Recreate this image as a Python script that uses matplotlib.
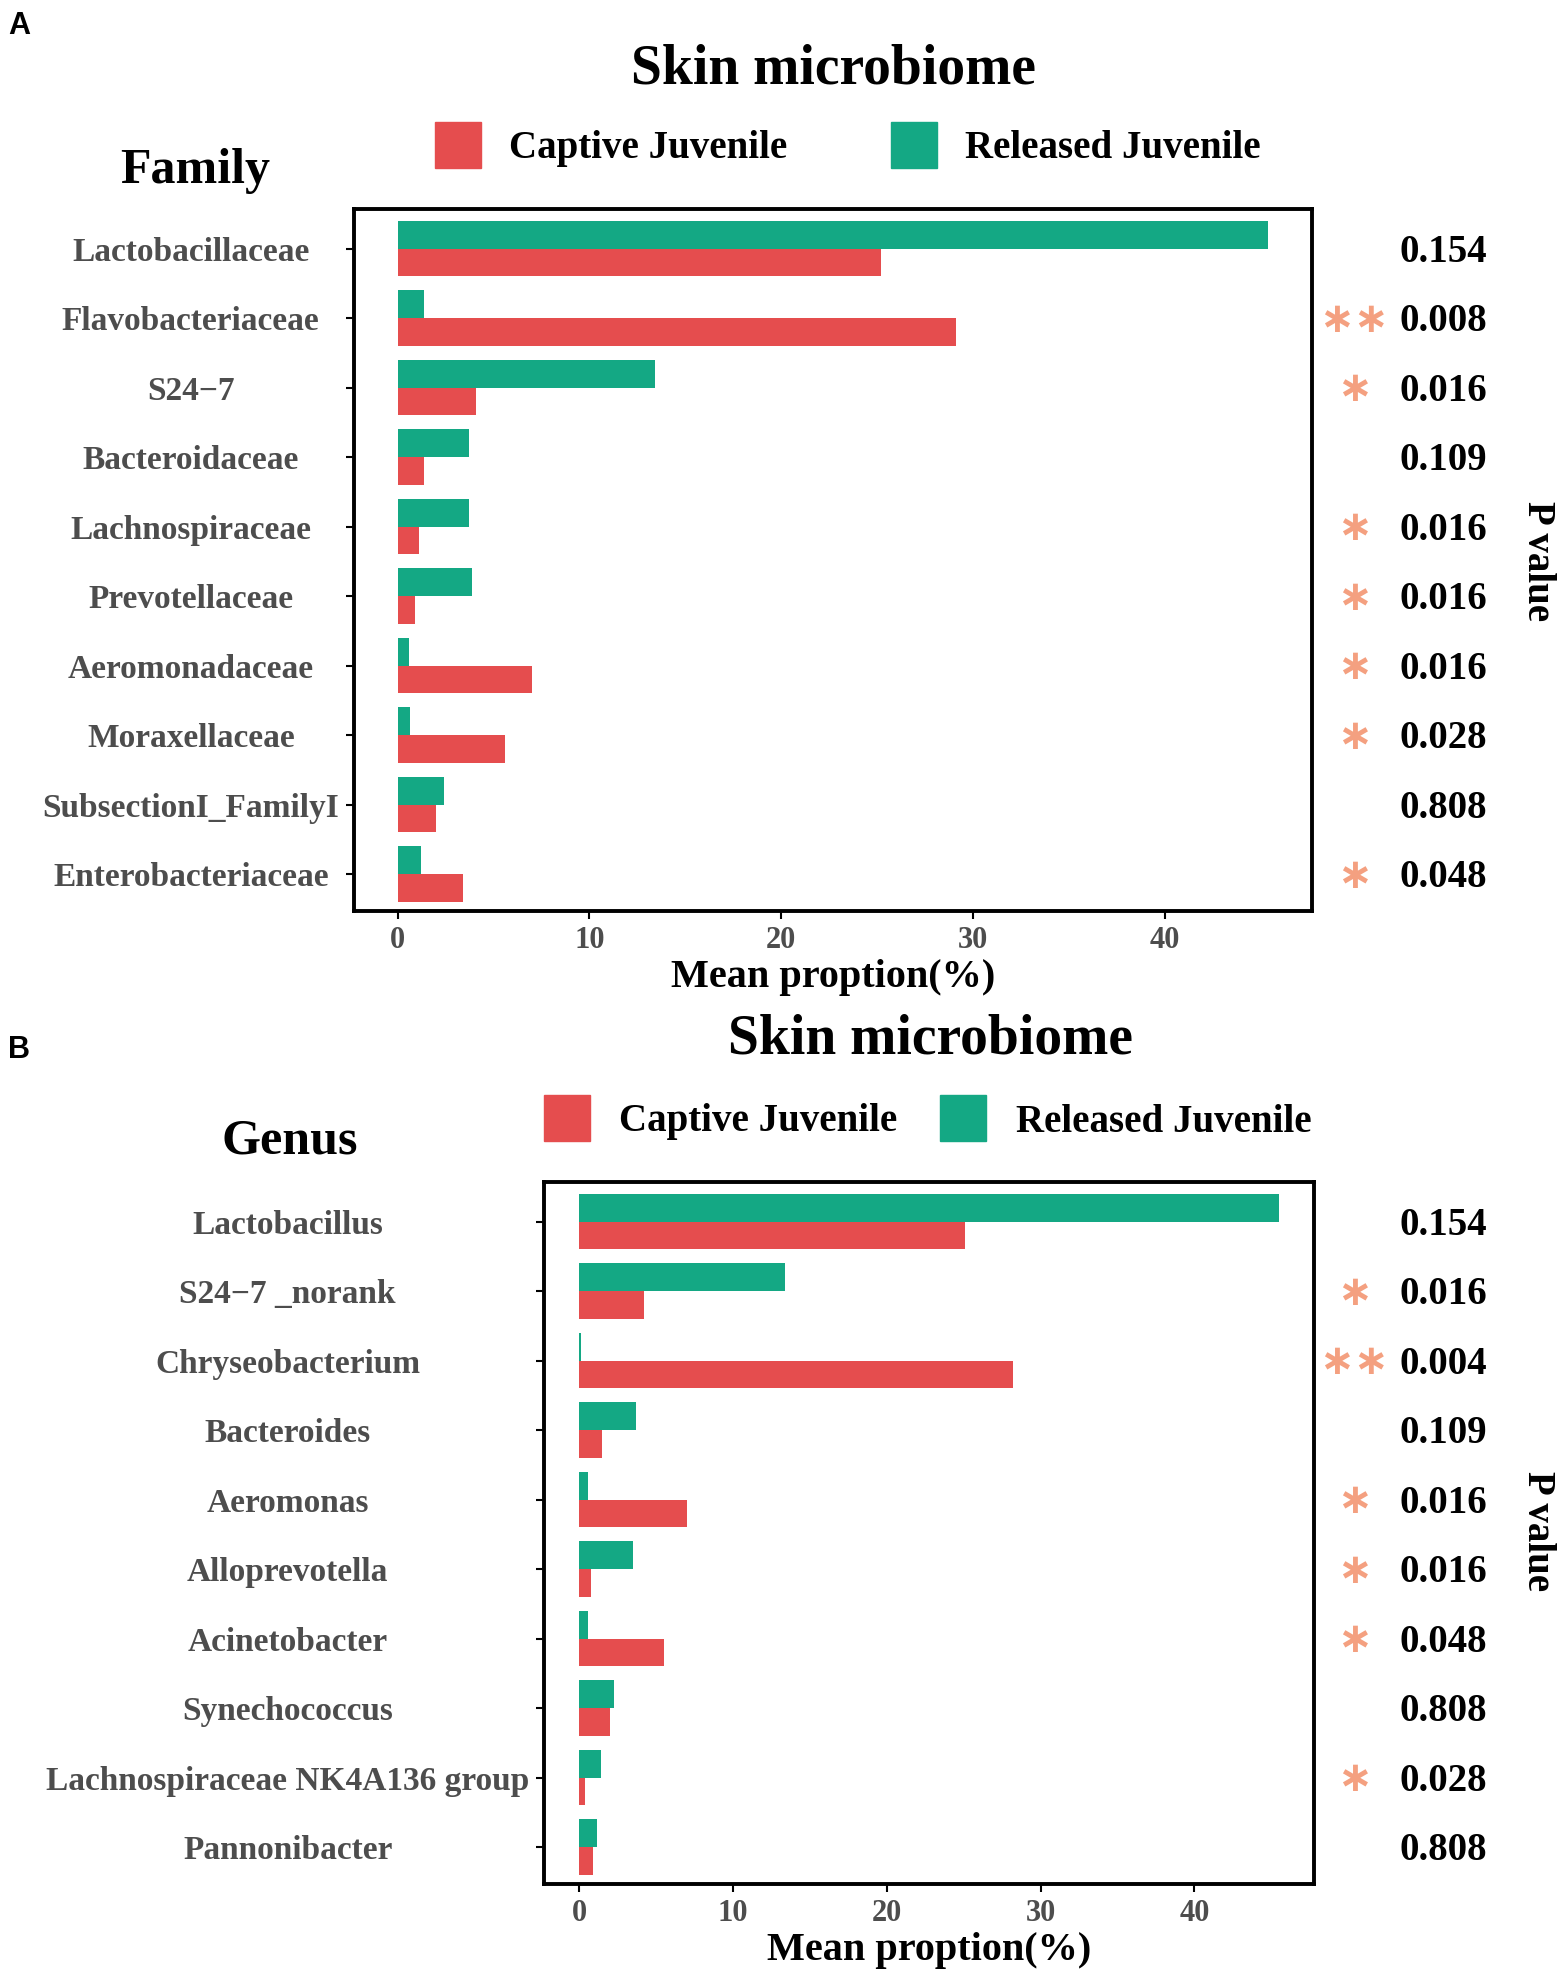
###  Import modules

import numpy as np
import matplotlib.pyplot as plt
from matplotlib.patches import Rectangle
from matplotlib.transforms import blended_transform_factory


###  Data

family_names    = ['Lactobacillaceae', 'Flavobacteriaceae', 'S24\u22127', 'Bacteroidaceae',
                   'Lachnospiraceae', 'Prevotellaceae', 'Aeromonadaceae', 'Moraxellaceae',
                   'SubsectionI_FamilyI', 'Enterobacteriaceae']
family_captive  = [25.2, 29.1, 4.1, 1.4, 1.1, 0.9, 7.0, 5.6, 2.0, 3.4]
family_released = [45.4, 1.4, 13.4, 3.7, 3.7, 3.9, 0.6, 0.65, 2.4, 1.2]
family_pvals    = ['0.154', '0.008', '0.016', '0.109', '0.016', '0.016', '0.016', '0.028', '0.808', '0.048']
family_stars    = ['', '**', '*', '', '*', '*', '*', '*', '', '*']

genus_names    = ['Lactobacillus', 'S24\u22127 _norank', 'Chryseobacterium', 'Bacteroides',
                  'Aeromonas', 'Alloprevotella', 'Acinetobacter', 'Synechococcus',
                  'Lachnospiraceae NK4A136 group', 'Pannonibacter']
genus_captive  = [25.1, 4.2, 28.2, 1.5, 7.0, 0.8, 5.5, 2.0, 0.4, 0.9]
genus_released = [45.5, 13.4, 0.15, 3.7, 0.6, 3.5, 0.6, 2.3, 1.4, 1.2]
genus_pvals    = ['0.154', '0.016', '0.004', '0.109', '0.016', '0.016', '0.048', '0.808', '0.028', '0.808']
genus_stars    = ['', '*', '**', '', '*', '*', '*', '', '*', '']

legend_labels = ['Captive Juvenile', 'Released Juvenile']


###  Style

col_cap  = '#E54D4E'
col_rel  = '#14A884'
col_star = '#F4A080'
grey     = '#4D4D4D'
serif    = 'Liberation Serif'

W, H = 1562, 1971
fig = plt.figure(figsize=(W/100, H/100), dpi=100)


def fx(px):
    return px / W


def fy(py):
    return 1 - py / H


def draw_panel(box, names, captive, released, pvals, stars, label_pad,
               title_x, title_y, level, level_x, level_y, leg, panel, panel_y, pv_y):
    left, top, right, bottom = box
    ax = fig.add_axes([fx(left), fy(bottom), fx(right - left), (bottom - top) / H])
    y = np.arange(len(names))
    ax.barh(y - 0.2, released, height=0.4, color=col_rel, edgecolor='none')
    ax.barh(y + 0.2, captive, height=0.4, color=col_cap, edgecolor='none')

    xmax = max(max(captive), max(released))
    ax.set_xlim(-0.05 * xmax, 1.05 * xmax)
    ax.set_ylim(len(names) - 0.47, -0.57)
    ax.set_xticks([0, 10, 20, 30, 40])
    ax.set_yticks(y)
    ax.set_yticklabels(names, fontsize=24, fontweight='bold', family=serif, color=grey, ha='center')
    ax.tick_params(axis='y', length=5.5, width=1.5, pad=label_pad)
    ax.tick_params(axis='x', length=5.5, width=1.5, pad=5, labelsize=22, labelcolor=grey)
    for t in ax.get_xticklabels():
        t.set_family(serif)
        t.set_fontweight('bold')
    for s in ax.spines.values():
        s.set_linewidth(2.8)
    ax.set_xlabel('Mean proption(%)', fontsize=29, fontweight='bold', family=serif, labelpad=3)

    # p values and stars on the right
    tr = blended_transform_factory(fig.transFigure, ax.transData)
    for i in range(len(names)):
        ax.text(fx(1443), i + 0.05, pvals[i], transform=tr, ha='center', va='center',
                fontsize=28, fontweight='bold', family=serif, clip_on=False)
        if stars[i]:
            ax.text(fx(1354), i + 0.02, stars[i].replace('*', '\u2217'), transform=tr,
                    ha='center', va='center', fontsize=30, fontweight='bold',
                    color=col_star, family='DejaVu Sans', clip_on=False)
    fig.text(fx(1538), fy(pv_y), 'P value', rotation=270, ha='center', va='center',
             fontsize=28, fontweight='bold', family=serif)

    # titles
    fig.text(fx(title_x), fy(title_y), 'Skin microbiome', ha='center', va='center',
             fontsize=40, fontweight='bold', family=serif)
    fig.text(fx(level_x), fy(level_y), level, ha='center', va='center',
             fontsize=36, fontweight='bold', family=serif)
    fig.text(fx(8), fy(panel_y), panel, ha='left', va='center',
             fontsize=22, fontweight='bold', family='Liberation Sans')

    # legend boxes
    leg_y, cap_box, cap_txt, rel_box, rel_txt = leg
    for bx, tx, c, lab in [(cap_box, cap_txt, col_cap, legend_labels[0]),
                           (rel_box, rel_txt, col_rel, legend_labels[1])]:
        fig.patches.append(Rectangle((fx(bx), fy(leg_y + 23)), fx(46), 46 / H,
                                     transform=fig.transFigure, color=c, figure=fig))
        fig.text(fx(tx), fy(leg_y + 4), lab, ha='left', va='center',
                 fontsize=28, fontweight='bold', family=serif)
    return ax


draw_panel((354, 209, 1312, 911), family_names, family_captive, family_released,
           family_pvals, family_stars, 112,
           833, 69, 'Family', 195, 171, (145, 435, 509, 891, 965), 'A', 26, 561)

draw_panel((544, 1182, 1314, 1884), genus_names, genus_captive, genus_released,
           genus_pvals, genus_stars, 179,
           930, 1039, 'Genus', 290, 1141, (1118, 544, 619, 940, 1016), 'B', 1050, 1531)

plt.savefig('out.png', dpi=100)
